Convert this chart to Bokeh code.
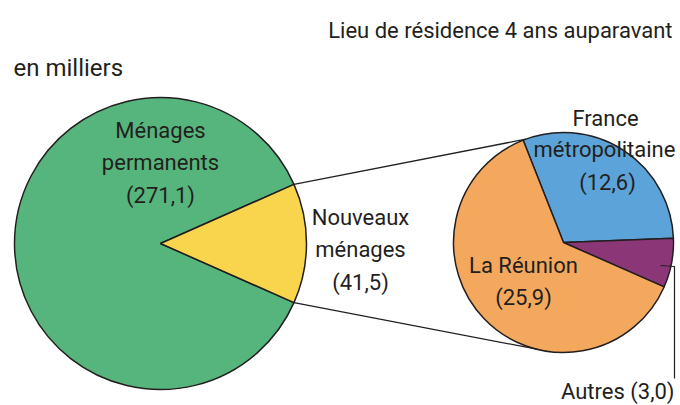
import math
from bokeh.plotting import figure
from bokeh.models import Range1d
from bokeh.core.properties import value
from bokeh.embed import file_html
from bokeh.resources import INLINE

# ---- data ----
main_labels = ["Ménages permanents", "Nouveaux ménages"]
main_values = [271.1, 41.5]
main_colors = ["#56b57c", "#f8d54c"]

sub_labels = ["France métropolitaine", "Autres", "La Réunion"]
sub_values = [12.6, 3.0, 25.9]
sub_colors = ["#5ca3d9", "#8b3777", "#f4a85e"]

title_text = "Lieu de résidence 4 ans auparavant"
unit_text = "en milliers"

FONT = value("Roboto")
INK = "#231f20"
FS = "22px"

W, H = 680, 405
p = figure(width=W, height=H, output_backend="svg", toolbar_location=None,
           x_range=Range1d(0, W), y_range=Range1d(-H, 0),
           min_border=0)
p.axis.visible = False
p.grid.visible = False
p.outline_line_color = None
p.background_fill_color = "white"

def fmt(v):
    return "(" + f"{v:.1f}".replace(".", ",") + ")"

# big pie
cx1, cy1, r1 = 160, -243, 146
tot1 = sum(main_values)
a_new = main_values[1] / tot1 * 2 * math.pi
starts1 = [a_new / 2, -a_new / 2]
ends1 = [2 * math.pi - a_new / 2, a_new / 2]
p.wedge(x=[cx1] * 2, y=[cy1] * 2, radius=r1, start_angle=starts1, end_angle=ends1,
        fill_color=main_colors, line_color=INK, line_width=1.5)

# small pie (clockwise from start)
cx2, cy2, r2 = 563, -242, 110
tot2 = sum(sub_values)
cur = math.radians(111.5)
s2, e2 = [], []
for v in sub_values:
    span = v / tot2 * 2 * math.pi
    e2.append(cur)
    s2.append(cur - span)
    cur -= span
p.wedge(x=[cx2] * 3, y=[cy2] * 3, radius=r2, start_angle=s2, end_angle=e2,
        fill_color=sub_colors, line_color=INK, line_width=1.5)

# connector lines
ua, la = math.radians(110), math.radians(-104)
p.segment(x0=[cx1 + r1 * math.cos(a_new / 2), cx1 + r1 * math.cos(-a_new / 2)],
          y0=[cy1 + r1 * math.sin(a_new / 2), cy1 + r1 * math.sin(-a_new / 2)],
          x1=[cx2 + r2 * math.cos(ua), cx2 + r2 * math.cos(la)],
          y1=[cy2 + r2 * math.sin(ua), cy2 + r2 * math.sin(la)],
          line_color=INK, line_width=1.3)

# Autres leader
p.line(x=[660, 674, 674], y=[-265, -266, -378], line_color=INK, line_width=1.2)

def txt(x, y, t, align="center", size=FS):
    p.text(x=[x], y=[y], text=[t], text_font=FONT, text_font_size=size,
           text_align=align, text_baseline="middle", text_color=INK)

txt(672, -30, title_text, align="right")
txt(13, -67, unit_text, align="left", size="24px")

txt(160, -130, "Ménages")
txt(160, -162, "permanents")
txt(160, -195, fmt(main_values[0]))

txt(360, -217, "Nouveaux")
txt(360, -249, "ménages")
txt(360, -282, fmt(main_values[1]))

txt(605, -118, "France")
txt(604, -149, "métropolitaine")
txt(607, -182, fmt(sub_values[0]))

txt(523, -265, "La Réunion")
txt(523, -297, fmt(sub_values[2]))

txt(674, -391, "Autres " + fmt(sub_values[1]), align="right")

open("out.html", "w").write(file_html(p, INLINE))
